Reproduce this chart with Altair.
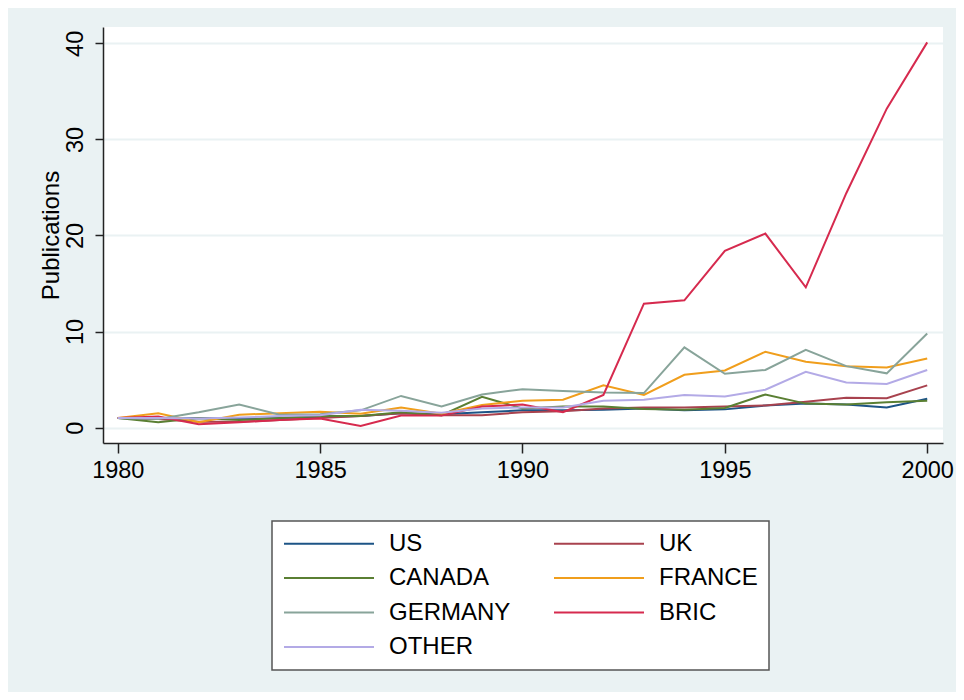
import altair as alt
import pandas as pd

years = list(range(1980, 2001))
series_names = ["US", "UK", "CANADA", "FRANCE", "GERMANY", "BRIC", "OTHER"]
colors = ["#1d5486", "#a8424e", "#5a7f33", "#f09e1c", "#88a49a", "#d62a4e", "#b3aae6"]

US = [1.0, 0.9, 1.0, 0.9, 1.0, 1.1, 1.2, 1.5, 1.4, 1.6, 1.8, 1.8, 1.85, 2.0, 1.8, 1.9, 2.3, 2.5, 2.4, 2.1, 3.0]
UK = [1.0, 0.9, 0.6, 0.6, 0.8, 1.0, 1.2, 1.5, 1.3, 1.3, 1.6, 1.7, 2.0, 2.1, 2.1, 2.2, 2.3, 2.7, 3.1, 3.05, 4.4]
CANADA = [1.0, 0.55, 1.0, 0.8, 1.0, 1.2, 1.2, 1.6, 1.3, 3.2, 2.0, 2.2, 2.2, 1.95, 1.85, 2.05, 3.45, 2.5, 2.4, 2.65, 2.8]
FRANCE = [1.0, 1.5, 0.55, 1.35, 1.5, 1.65, 1.45, 2.1, 1.45, 2.35, 2.8, 2.9, 4.4, 3.4, 5.5, 5.95, 7.9, 6.85, 6.4, 6.25, 7.2]
GERMANY = [1.0, 0.9, 1.6, 2.4, 1.35, 1.4, 1.8, 3.3, 2.2, 3.45, 4.0, 3.8, 3.65, 3.6, 8.35, 5.6, 6.0, 8.1, 6.4, 5.65, 9.8]
BRIC = [1.0, 1.15, 0.35, 0.55, 0.8, 0.95, 0.18, 1.25, 1.25, 2.2, 2.4, 1.6, 3.4, 12.9, 13.25, 18.4, 20.2, 14.6, 24.4, 33.2, 40.1]
OTHER = [1.0, 1.0, 0.95, 1.05, 1.2, 1.3, 1.85, 1.75, 1.55, 2.0, 2.1, 2.1, 2.8, 2.9, 3.4, 3.25, 3.95, 5.8, 4.7, 4.55, 6.0]

values = [US, UK, CANADA, FRANCE, GERMANY, BRIC, OTHER]
rows = []
for k, (name, vals) in enumerate(zip(series_names, values)):
    for yr, v in zip(years, vals):
        rows.append({"year": yr, "country": name, "value": v, "k": k})
df = pd.DataFrame(rows)

FONT = "Liberation Sans"

chart = alt.Chart(df).mark_line(strokeWidth=2, clip=True).encode(
    x=alt.X("year:Q",
            scale=alt.Scale(domain=[1979.635, 2000.39], nice=False, zero=False),
            axis=alt.Axis(values=[1980, 1985, 1990, 1995, 2000], format="d", grid=False,
                          title="Year", tickSize=10, labelPadding=24,
                          labelBaseline="alphabetic", labelFontSize=23.5,
                          titleX=421, titleY=475, titleBaseline="alphabetic",
                          titleAlign="center")),
    y=alt.Y("value:Q",
            scale=alt.Scale(domain=[-1.6, 41.7], nice=False, zero=False),
            axis=alt.Axis(values=[0, 10, 20, 30, 40], grid=True, title="Publications",
                          tickSize=8, labelAngle=270, labelAlign="center",
                          labelBaseline="alphabetic", labelPadding=13, labelFontSize=23.5,
                          titleX=-45, titleY=208, titleAngle=270,
                          titleBaseline="alphabetic", titleAlign="center")),
    color=alt.Color("country:N",
                    scale=alt.Scale(domain=series_names, range=colors),
                    legend=alt.Legend(title=None, orient="none", legendX=169, legendY=494,
                                      direction="horizontal",
                                      columns=2, symbolType="stroke", symbolSize=8100,
                                      symbolStrokeWidth=2, clipHeight=23, rowPadding=9.5,
                                      columnPadding=42, labelOffset=14, padding=11,
                                      strokeColor="#555555", fillColor="white",
                                      labelFontSize=24, labelFont=FONT, labelColor="black")),
    order=alt.Order("k:Q"),
).properties(
    width=840,
    height=416,
    autosize=alt.AutoSizeParams(type="none"),
    padding={"left": 95, "top": 19, "right": 13, "bottom": 249},
    background="#EAF2F3",
).configure_view(
    fill="white", strokeWidth=0
).configure_axis(
    domainColor="#222222", domainWidth=1.5, tickColor="#222222", tickWidth=1.5,
    gridColor="#EAF2F3", gridWidth=2, labelFont=FONT, titleFont=FONT,
    labelColor="black", titleColor="black", titleFontSize=24, titleFontWeight="normal",
    labelFontSize=23.5
).configure_legend(
    strokeWidth=1.5
)

chart.save("out.html", embed_options={"renderer": "svg", "actions": False})
